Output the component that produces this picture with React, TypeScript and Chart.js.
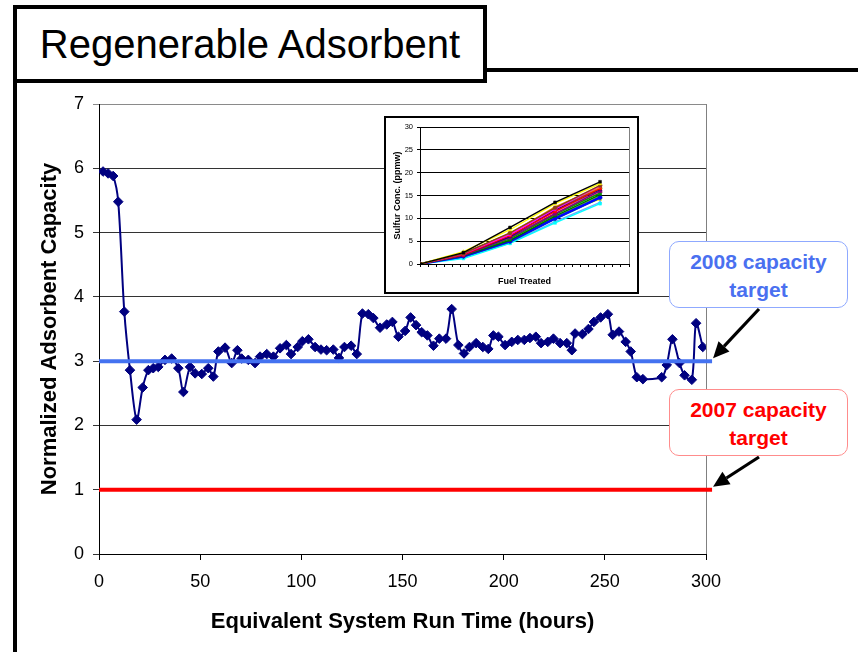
import React, { useEffect, useRef } from "react";
import { Chart, registerables } from "chart.js";

Chart.register(...registerables);

const FONT = "'Liberation Sans', Arial, Helvetica, sans-serif";

// Main chart data
const runHours = [
  2, 4.5, 7, 9.5, 12.5, 15.3, 18.6, 21.6, 24.4, 26.8, 29.3, 32.6, 35.9, 39.2, 41.7,
  45, 47.5, 50.8, 54, 56.5, 59, 62.3, 65.6, 68.4, 70.5, 73.8, 77.1, 79.6, 82.9, 86.2,
  89.5, 92.6, 94.9, 98.2, 100.5, 103.5, 106.8, 109.7, 112.5, 115.8, 118.6, 121.3, 124.6, 127.4,
  130.2, 133.1, 135.6, 138.9, 142.2, 145, 148, 151.3, 154, 156.7, 159.5, 162.3, 165.3, 168.2,
  171.5, 174.3, 177.6, 180.4, 183.1, 186.4, 189.7, 192.4, 194.9, 197.4, 200.7, 204, 207, 210.2,
  213, 215.9, 218.5, 221.8, 224.6, 227.9, 231.2, 233.7, 235.3, 238.9, 241.9, 244.6, 247.9, 251.5,
  253.9, 257, 260.3, 262.8, 265.8, 268.8, 278.1, 280.6, 283.4, 286.9, 289.4, 293, 295.1, 298.4,
];
const capacity = [
  5.95, 5.92, 5.88, 5.48, 3.77, 2.86, 2.09, 2.59, 2.86, 2.89, 2.91, 3.02, 3.04, 2.89, 2.52,
  2.91, 2.81, 2.8, 2.89, 2.76, 3.15, 3.21, 2.97, 3.17, 3.04, 3.02, 2.97, 3.07, 3.11, 3.07,
  3.2, 3.25, 3.11, 3.22, 3.31, 3.34, 3.22, 3.18, 3.17, 3.18, 3.05, 3.22, 3.24, 3.11,
  3.74, 3.73, 3.67, 3.52, 3.57, 3.61, 3.38, 3.47, 3.68, 3.56, 3.45, 3.4, 3.24, 3.35,
  3.35, 3.81, 3.25, 3.12, 3.22, 3.28, 3.22, 3.19, 3.4, 3.38, 3.25, 3.3, 3.33, 3.33,
  3.36, 3.38, 3.28, 3.3, 3.35, 3.28, 3.28, 3.17, 3.43, 3.42, 3.5, 3.61, 3.68, 3.73,
  3.41, 3.46, 3.3, 3.15, 2.75, 2.72, 2.75, 2.94, 3.34, 2.97, 2.78, 2.71, 3.59, 3.22,
];
const target2008 = 3;
const target2007 = 1;
const targetSpan = [0, 303];
const xTickStep = 50;
const yTickStep = 1;

// Inset chart data
const insetFuel = [0, 5.4, 11.2, 16.8, 22.4];
const insetSeries = [
  [0, 2.5, 8.0, 13.5, 18.0],
  [0, 2.7, 7.5, 13.2, 17.6],
  [0, 2.3, 6.8, 12.3, 17.2],
  [0, 2.2, 6.5, 12.0, 17.1],
  [0, 2.4, 6.6, 12.5, 16.8],
  [0, 2.0, 6.2, 11.5, 16.5],
  [0, 2.1, 6.0, 11.8, 16.3],
  [0, 1.9, 5.8, 11.0, 16.0],
  [0, 2.0, 5.5, 10.8, 15.5],
  [0, 1.8, 5.2, 10.5, 15.2],
  [0, 1.7, 5.0, 10.0, 14.6],
  [0, 1.6, 4.8, 9.8, 14.4],
  [0, 1.8, 5.3, 10.2, 15.0],
  [0, 1.2, 4.5, 9.0, 13.2],
  [0, 1.4, 4.6, 9.3, 13.5],
  [0, 2.2, 6.3, 11.3, 15.8],
  [0, 1.9, 5.6, 10.6, 14.2],
  [0, 2.0, 5.9, 11.6, 15.9],
  [0, 2.3, 6.7, 12.1, 16.6],
  [0, 2.1, 6.1, 11.2, 15.6],
];
const insetColors = [
  "#000000", "#ffff00", "#8b4513", "#ff00ff", "#ff8c00", "#ff0000", "#000080", "#800080",
  "#00a000", "#006400", "#0000ff", "#008080", "#80ff00", "#00ffff", "#6fa8ff", "#ff69b4",
  "#ffd700", "#808080", "#808000", "#800000",
];
const insetShapes = ["rect", "triangle", "circle", "rectRot", "crossRot", "rect", "triangle", "circle"];

const drawArrow = (ctx: CanvasRenderingContext2D, x1: number, y1: number, x2: number, y2: number) => {
  const ang = Math.atan2(y2 - y1, x2 - x1);
  const head = 16;
  const half = 7.5;
  const bx = x2 - head * Math.cos(ang);
  const by = y2 - head * Math.sin(ang);
  ctx.save();
  ctx.strokeStyle = "#000";
  ctx.fillStyle = "#000";
  ctx.lineWidth = 3.2;
  ctx.beginPath();
  ctx.moveTo(x1, y1);
  ctx.lineTo(bx, by);
  ctx.stroke();
  ctx.beginPath();
  ctx.moveTo(x2, y2);
  ctx.lineTo(bx + half * Math.sin(ang), by - half * Math.cos(ang));
  ctx.lineTo(bx - half * Math.sin(ang), by + half * Math.cos(ang));
  ctx.closePath();
  ctx.fill();
  ctx.restore();
};

const mainPlugin = {
  id: "mainDecor",
  beforeDatasetsDraw(chart: any) {
    const { ctx, chartArea } = chart;
    ctx.save();
    ctx.strokeStyle = "#808080";
    ctx.lineWidth = 1;
    ctx.beginPath();
    ctx.moveTo(chartArea.right + 0.5, chartArea.top);
    ctx.lineTo(chartArea.right + 0.5, chartArea.bottom);
    ctx.stroke();
    ctx.restore();
  },
  afterDraw(chart: any) {
    const { ctx } = chart;
    const xs = chart.scales.x;
    const ys = chart.scales.y;
    const endX = xs.getPixelForValue(targetSpan[1]) + 1;
    drawArrow(ctx, 759, 309, endX, ys.getPixelForValue(target2008) - 3);
    drawArrow(ctx, 759, 457, endX, ys.getPixelForValue(target2007) - 3);
  },
};

const insetPlugin = {
  id: "insetDecor",
  beforeDatasetsDraw(chart: any) {
    const { ctx, chartArea } = chart;
    ctx.save();
    ctx.strokeStyle = "#808080";
    ctx.lineWidth = 1;
    ctx.beginPath();
    ctx.moveTo(chartArea.right + 0.5, chartArea.top);
    ctx.lineTo(chartArea.right + 0.5, chartArea.bottom);
    ctx.stroke();
    ctx.restore();
  },
};

export default function App() {
  const mainRef = useRef<HTMLCanvasElement>(null);
  const insetRef = useRef<HTMLCanvasElement>(null);

  useEffect(() => {
    document.body.style.margin = "0";
    const main = new Chart(mainRef.current as HTMLCanvasElement, {
      type: "line",
      data: {
        datasets: [
          {
            label: "2008 capacity target",
            data: targetSpan.map((x) => ({ x, y: target2008 })),
            borderColor: "#4472f0",
            borderWidth: 4,
            pointRadius: 0,
            clip: false as any,
            order: 0,
          },
          {
            label: "2007 capacity target",
            data: targetSpan.map((x) => ({ x, y: target2007 })),
            borderColor: "#ff0000",
            borderWidth: 4,
            pointRadius: 0,
            clip: false as any,
            order: 0,
          },
          {
            label: "Normalized Adsorbent Capacity",
            data: runHours.map((h, i) => ({ x: h, y: capacity[i] })),
            borderColor: "#000080",
            backgroundColor: "#000080",
            borderWidth: 2,
            pointStyle: "rectRot",
            pointRadius: 4.8,
            pointBorderWidth: 1,
            pointBackgroundColor: "#000080",
            tension: 0.3,
            order: 1,
          },
        ],
      },
      options: {
        responsive: false,
        animation: false,
        layout: { padding: { top: 104, right: 152, left: 0, bottom: 0 } },
        plugins: { legend: { display: false }, tooltip: { enabled: false } },
        scales: {
          x: {
            type: "linear",
            min: 0,
            max: 300,
            ticks: { stepSize: xTickStep, color: "#000", padding: 11, maxRotation: 0, font: { family: FONT, size: 18 } },
            grid: { drawOnChartArea: false, tickLength: 6, color: "#000" },
            border: { color: "#000", width: 1 },
            title: {
              display: true,
              text: "Equivalent System Run Time (hours)",
              color: "#000",
              font: { family: FONT, size: 22, weight: "bold" },
              padding: { top: 0, bottom: 17 },
            },
            afterFit: (s: any) => {
              s.height = 98;
            },
          },
          y: {
            type: "linear",
            min: 0,
            max: 7,
            ticks: { stepSize: yTickStep, color: "#000", padding: 9, font: { family: FONT, size: 18 } },
            grid: {
              tickLength: 6,
              color: (c: any) => (c.tick && c.tick.value === 7 ? "#8a8a8a" : "#333333"),
            },
            border: { color: "#000", width: 1 },
            title: {
              display: true,
              text: "Normalized Adsorbent Capacity",
              color: "#000",
              font: { family: FONT, size: 22, weight: "bold" },
              padding: { top: 37, bottom: 0 },
            },
            afterFit: (s: any) => {
              s.width = 99;
            },
          },
        },
      } as any,
      plugins: [mainPlugin],
    });

    const inset = new Chart(insetRef.current as HTMLCanvasElement, {
      type: "line",
      data: {
        datasets: insetSeries.map((vals, si) => ({
          label: "Run " + (si + 1),
          data: insetFuel.map((x, i) => ({ x, y: vals[i] })),
          borderColor: insetColors[si],
          backgroundColor: insetColors[si],
          borderWidth: si === 10 ? 2.5 : 1.4,
          pointRadius: 2,
          pointBorderWidth: 0.5,
          pointStyle: insetShapes[si % insetShapes.length] as any,
          tension: 0,
        })),
      },
      options: {
        responsive: false,
        animation: false,
        layout: { padding: { top: 9, right: 8, left: 0, bottom: 0 } },
        plugins: { legend: { display: false }, tooltip: { enabled: false } },
        scales: {
          x: {
            type: "linear",
            min: 0,
            max: 26,
            ticks: { stepSize: 1, callback: () => "", padding: 0, font: { family: FONT, size: 6 } },
            grid: { drawOnChartArea: false, tickLength: 3, color: "#000" },
            border: { color: "#000", width: 1 },
            title: {
              display: true,
              text: "Fuel Treated",
              color: "#000",
              font: { family: FONT, size: 9, weight: "bold" },
              padding: { top: 0, bottom: 5 },
            },
            afterFit: (s: any) => {
              s.height = 28;
            },
          },
          y: {
            type: "linear",
            min: 0,
            max: 30,
            ticks: { stepSize: 5, color: "#000", padding: 4, font: { family: FONT, size: 7.5 } },
            grid: { tickLength: 3, color: "#000" },
            border: { color: "#000", width: 1 },
            title: {
              display: true,
              text: "Sulfur Conc. (ppmw)",
              color: "#000",
              font: { family: FONT, size: 9, weight: "bold" },
              padding: { top: 6, bottom: 0 },
            },
            afterFit: (s: any) => {
              s.width = 34;
            },
          },
        },
      } as any,
      plugins: [insetPlugin],
    });

    return () => {
      main.destroy();
      inset.destroy();
    };
  }, []);

  const boxBase: React.CSSProperties = {
    position: "absolute",
    left: 669,
    width: 179,
    height: 67,
    boxSizing: "border-box",
    borderRadius: 10,
    background: "#fff",
    textAlign: "center",
    fontFamily: FONT,
    fontWeight: "bold",
    fontSize: 21,
    lineHeight: "28px",
    paddingTop: 6,
  };

  return (
    <div
      style={{
        position: "absolute",
        left: 0,
        top: 0,
        width: 858,
        height: 652,
        background: "#fff",
        overflow: "hidden",
      }}
    >
      <canvas ref={mainRef} width={858} height={652} style={{ position: "absolute", left: 0, top: 0 }} />
      {/* frame lines */}
      <div style={{ position: "absolute", left: 485, top: 68, width: 380, height: 4, background: "#000" }} />
      <div style={{ position: "absolute", left: 13, top: 80, width: 4, height: 580, background: "#000" }} />
      {/* title box */}
      <div
        style={{
          position: "absolute",
          left: 13,
          top: 5,
          width: 474,
          height: 78,
          boxSizing: "border-box",
          border: "4px solid #000",
          background: "#fff",
          display: "flex",
          alignItems: "center",
          justifyContent: "center",
          fontFamily: FONT,
          fontSize: 40,
          color: "#000",
        }}
      >
        Regenerable Adsorbent
      </div>
      {/* inset chart */}
      <div
        style={{
          position: "absolute",
          left: 384,
          top: 116,
          width: 255,
          height: 178,
          boxSizing: "border-box",
          border: "2px solid #000",
          background: "#fff",
        }}
      >
        <canvas ref={insetRef} width={251} height={174} style={{ display: "block" }} />
      </div>
      {/* annotation boxes */}
      <div style={{ ...boxBase, top: 241, border: "1.5px solid #8fa9ff", color: "#4a70f0" }}>
        2008 capacity
        <br />
        target
      </div>
      <div style={{ ...boxBase, top: 389, border: "1.5px solid #ff8c8c", color: "#ff0000" }}>
        2007 capacity
        <br />
        target
      </div>
    </div>
  );
}
